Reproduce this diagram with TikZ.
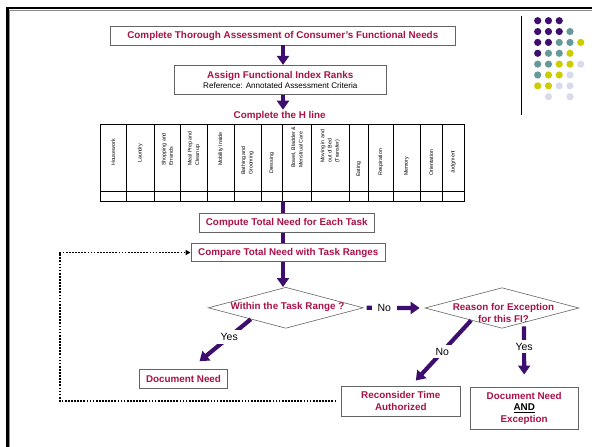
\documentclass[tikz,border=0pt]{standalone}
\usepackage{fontspec}
\setmainfont{Liberation Sans}
\usetikzlibrary{arrows.meta,shapes.geometric,calc}

\definecolor{flowpurple}{RGB}{62,14,110}
\definecolor{titlered}{RGB}{168,18,72}
\definecolor{boxgray}{RGB}{100,100,100}
\definecolor{dotP}{RGB}{62,14,110}
\definecolor{dotT}{RGB}{102,153,153}
\definecolor{dotY}{RGB}{204,204,0}
\definecolor{dotL}{RGB}{218,218,238}

\begin{document}
\begin{tikzpicture}[x=1pt,y=-1pt,
  stepbox/.style={draw=boxgray, line width=0.8pt, fill=white, inner sep=0pt,
    align=center, text=titlered, font=\bfseries\fontsize{9.85}{11.8}\selectfont},
  decision/.style={diamond, draw=boxgray, line width=0.6pt, inner sep=0pt},
  redtext/.style={text=titlered, font=\bfseries\fontsize{9.85}{12.3}\selectfont,
    align=center, inner sep=0pt},
  flow/.style={draw=flowpurple, line width=4.2pt, -{Triangle[width=12pt,length=9pt]}},
  flowline/.style={draw=flowpurple, line width=4.2pt},
  answer/.style={fill=white, inner xsep=6pt, inner ysep=3pt,
    font=\fontsize{10.5}{12}\selectfont},
  loopline/.style={draw=black, line width=1.7pt, dash pattern=on 1.7pt off 1.4pt,
    -{Triangle[width=5pt,length=5pt]}},
  colhead/.style={rotate=90, anchor=west, inner sep=0pt, align=left,
    font=\fontsize{5.3}{7.3}\selectfont},
  gridline/.style={draw=black, line width=0.8pt}
]
\useasboundingbox (0,0) rectangle (592,447);

% page frame
\draw[black!45, line width=1pt] (9.6,447) -- (9.6,10.2) -- (592,10.2);
\draw[black, line width=2.7pt] (7.3,447) -- (7.3,8) -- (592,8);

% dot ornament with its rule
\draw[black, line width=0.8pt] (521.7,15.7) -- (521.7,115);
\foreach \r/\cols in {0/{P,P,P},1/{P,P,P,T},2/{P,P,T,T,Y},3/{P,T,T,Y},
                      4/{T,T,Y,Y,L},5/{T,Y,Y,L},6/{Y,Y,L,L}}{
  \foreach \c [count=\i from 0] in \cols {
    \fill[dot\c] (537.7+10.77*\i, 20.7+10.86*\r) circle (3.6pt);
  }
}
\fill[dotL] (548.5,96.7) circle (3.6pt);
\fill[dotL] (570.0,96.7) circle (3.6pt);

% steps
\coordinate (axis) at (283,0);
\node[stepbox, minimum width=345.7pt, minimum height=18.3pt] (box1) at (282.8,35.8)
  {Complete Thorough Assessment of Consumer's Functional Needs};
\node[stepbox, minimum width=212.7pt, minimum height=29pt] (box2) at (280.3,79.8)
  {Assign Functional Index Ranks\\[-1.5pt]
   {\mdseries\color{black}\fontsize{8.1}{9}\selectfont Reference: Annotated Assessment Criteria}};
\node[redtext] (hline) at (279.7,116) {Complete the H line};

\draw[flow] (box1.south -| axis) -- (box2.north -| axis);
\draw[flow, shorten >=1.5pt] (box2.south -| axis) -- (hline.north -| axis);

% H line table
\draw[gridline] (100,124) rectangle (464,201);
\draw[gridline] (100,191) -- (464,191);
\foreach \x in {126.7,154,180.7,207.3,234,261,282.3,311.7,349,368.3,393.3,420,442.3}
  \draw[gridline] (\x,124) -- (\x,201);

\node[colhead] (hd1)  at (113.3,166) {Housework};
\node[colhead] (hd2)  at (140.3,163) {Laundry};
\node[colhead] (hd3)  at (167.3,166) {Shopping and\\Errands};
\node[colhead] (hd4)  at (194.0,166) {Meal Prep and\\Clean up};
\node[colhead] (hd5)  at (220.7,166) {Mobility Inside};
\node[colhead] (hd6)  at (247.5,175) {Bathing and\\Grooming};
\node[colhead] (hd7)  at (271.7,174) {Dressing};
\node[colhead] (hd8)  at (297.0,168) {Bowel, Bladder \&\\Menstrual Care};
\node[colhead] (hd9)  at (330.3,163) {Moving in and\\out of Bed\\(Transfer)};
\node[colhead] (hd10) at (358.7,177) {Eating};
\node[colhead] (hd11) at (380.8,176) {Respiration};
\node[colhead] (hd12) at (406.7,176) {Memory};
\node[colhead] (hd13) at (431.2,176) {Orientation};
\node[colhead] (hd14) at (453.2,174) {Judgment};
\coordinate (tblbot) at (283,201);

% totals and comparison
\node[stepbox, minimum width=175.3pt, minimum height=19pt] (compute) at (286.7,222.8)
  {Compute Total Need for Each Task};
\node[stepbox, minimum width=194.7pt, minimum height=18.4pt] (compare) at (288.3,252.5)
  {Compare Total Need with Task Ranges};

\node[decision, minimum width=155pt, minimum height=41pt] (d1) at (285.8,307.8) {};
\node[redtext] (d1txt) at (287.5,306.7) {Within the Task Range ?};
\node[decision, minimum width=154pt, minimum height=40.6pt] (d2) at (502,308) {};
\node[redtext] (d2txt) at (503.5,312.8) {Reason for Exception\\for this FI?};

\draw[flowline] (tblbot) -- (compute.north -| axis);
\draw[flowline] (compute.south -| axis) -- (compare.north -| axis);
\draw[flow] (compare.south -| axis) -- (d1.north -| axis);

% outcomes
\node[stepbox, minimum width=88.4pt, minimum height=19pt] (docneed) at (183.5,378.8)
  {Document Need};
\node[stepbox, minimum width=119.7pt, minimum height=30.7pt] (recon) at (400.8,401.3)
  {Reconsider Time\\Authorized};
\node[stepbox, minimum width=108.3pt, minimum height=41.3pt] (docexc) at (524.2,408.3)
  {Document Need\\{\color{black}\underline{AND}}\\Exception};

% decision branches
\draw[flow, shorten <=3pt, shorten >=5pt] (d1.east) -- node[answer, pos=0.34] {No} (d2.west);

\coordinate (y1s) at ($(d1.west)!0.55!(d1.south)$);
\coordinate (y1e) at ($(docneed.north)+(16,-7.6)$);
\draw[flow] (y1s) -- node[answer, pos=0.42] {Yes} (y1e);

\coordinate (n2s) at ($(d2.west)!0.6!(d2.south)$);
\coordinate (n2e) at ($(recon.north)+(15,-5)$);
\draw[flow] (n2s) -- node[answer, pos=0.52] {No} (n2e);

\coordinate (y2s) at ($(d2.south)+(22,-2.3)$);
\coordinate (y2e) at ($(docexc.north)+(0,-12.7)$);
\draw[flow] (y2s) -- node[answer, pos=0.42] {Yes} (y2e);

% return loop
\coordinate (loopx) at (60,0);
\draw[loopline] ([xshift=-4.3pt]recon.west) -- (recon.west -| loopx)
  -- (compare.west -| loopx) -- (compare.west);
\end{tikzpicture}
\end{document}
